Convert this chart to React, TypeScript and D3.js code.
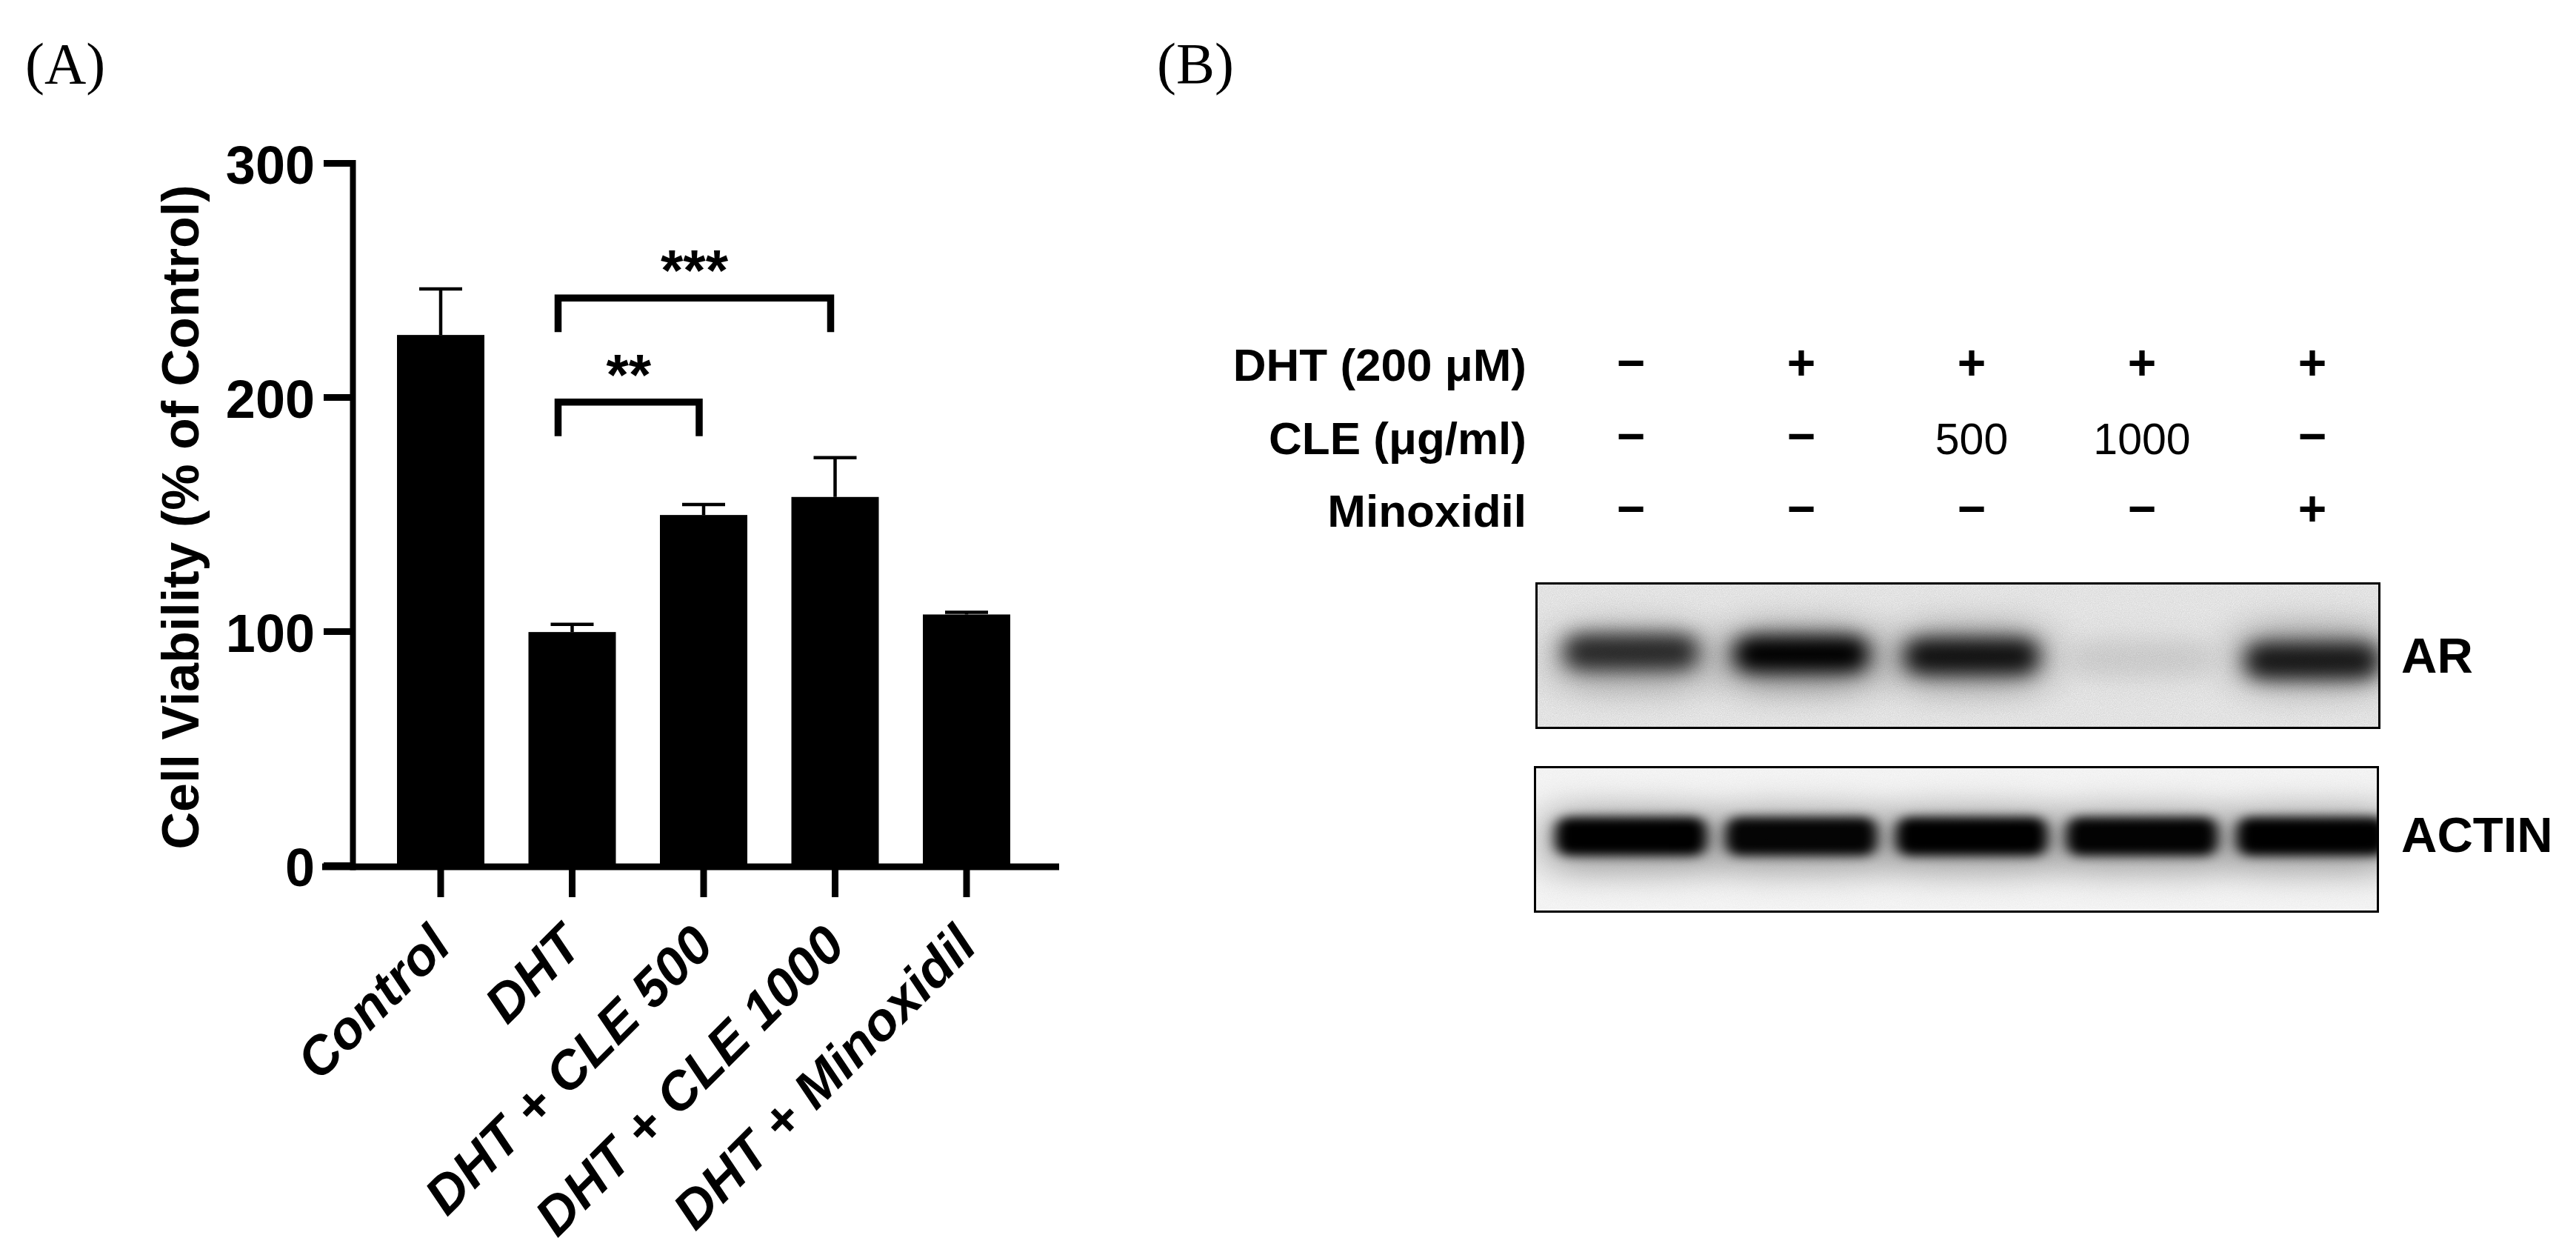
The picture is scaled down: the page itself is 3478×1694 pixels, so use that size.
import React from 'react';
import * as d3 from 'd3';

// ---------- Data ----------
const categories = ['Control', 'DHT', 'DHT + CLE 500', 'DHT + CLE 1000', 'DHT + Minoxidil'];
const means = [226.7, 99.8, 149.8, 157.5, 107.3];
const sds = [19.7, 3.3, 4.5, 16.8, 0.9];
const yTicks = [0, 100, 200, 300];
const comparisons = [
  { from: 1, to: 2, level: 198, label: '**' },
  { from: 1, to: 3, level: 242.5, label: '***' },
];

const rowLabels = ['DHT (200 μM)', 'CLE (μg/ml)', 'Minoxidil'];
const dhtRow = ['−', '+', '+', '+', '+'];
const cleRow = ['−', '−', '500', '1000', '−'];
const minoxRow = ['−', '−', '−', '−', '+'];
const lanes = ['1', '2', '3', '4', '5'];
const arIntensity = [0.74, 1.0, 0.88, 0.07, 0.84];
const actinIntensity = [1, 0.97, 1, 0.98, 1];

const W = 3478;
const H = 1694;
const SANS = "'Liberation Sans', Arial, Helvetica, sans-serif";
const SERIF = "'Liberation Serif', 'Times New Roman', serif";

export default function App() {
  // ----- Panel A scales -----
  const y = d3.scaleLinear().domain([0, 300]).range([1168.5, 220.5]);
  const x = d3.scalePoint<string>().domain(categories).range([595, 1305]);
  const barW = 118;
  const axisX = 476.5;
  const axisY = 1170;

  // ----- Panel B scales -----
  const lane = d3.scalePoint<string>().domain(lanes).range([2202, 3122]);
  const rowY = d3.scalePoint<string>().domain(rowLabels).range([514, 711]);
  const rows = [dhtRow, cleRow, minoxRow];

  const arBox = { x: 2074.5, y: 787.5, w: 1138, h: 195 };
  const acBox = { x: 2072.5, y: 1035.5, w: 1138, h: 195 };

  return (
    <div style={{ position: 'absolute', left: 0, top: 0 }}>
      <svg width={W} height={H} viewBox={`0 0 ${W} ${H}`} style={{ display: 'block', background: '#fff' }}>
        <defs>
          <filter id="blurAR" x="-50%" y="-100%" width="200%" height="300%">
            <feGaussianBlur stdDeviation="14 12" />
          </filter>
          <filter id="blurAC" x="-50%" y="-100%" width="200%" height="300%">
            <feGaussianBlur stdDeviation="9 7" />
          </filter>
          <filter id="halo" x="-50%" y="-200%" width="200%" height="500%">
            <feGaussianBlur stdDeviation="30 22" />
          </filter>
          <filter id="noise" x="0" y="0" width="100%" height="100%">
            <feTurbulence type="fractalNoise" baseFrequency="0.9" numOctaves="2" seed="3" result="t" />
            <feColorMatrix type="matrix" values="0 0 0 0 0  0 0 0 0 0  0 0 0 0 0  0 0 0 -1.2 1.05" />
          </filter>
          <clipPath id="clipAR">
            <rect x={arBox.x} y={arBox.y} width={arBox.w} height={arBox.h} />
          </clipPath>
          <clipPath id="clipAC">
            <rect x={acBox.x} y={acBox.y} width={acBox.w} height={acBox.h} />
          </clipPath>
        </defs>

        {/* Panel letters */}
        <text x={34} y={112} fontFamily={SERIF} fontSize={78}>(A)</text>
        <text x={1562} y={112} fontFamily={SERIF} fontSize={78}>(B)</text>

        {/* ===== Panel A: bar chart ===== */}
        {categories.map((c, i) => (
          <rect key={c} x={(x(c) as number) - barW / 2} y={y(means[i])} width={barW}
            height={axisY - y(means[i])} fill="#000" />
        ))}
        {categories.map((c, i) => {
          const cx = x(c) as number;
          return (
            <g key={'e' + c} stroke="#000" strokeWidth={4.5}>
              <line x1={cx} x2={cx} y1={y(means[i])} y2={y(means[i] + sds[i])} />
              <line x1={cx - 29} x2={cx + 29} y1={y(means[i] + sds[i])} y2={y(means[i] + sds[i])} />
            </g>
          );
        })}

        {/* axes */}
        <line x1={axisX} x2={axisX} y1={216} y2={axisY + 4.5} stroke="#000" strokeWidth={8} />
        <line x1={435} x2={1430} y1={axisY} y2={axisY} stroke="#000" strokeWidth={9} />
        {yTicks.map((t) => (
          <g key={t}>
            <line x1={437} x2={axisX} y1={y(t)} y2={y(t)} stroke="#000" strokeWidth={9} />
            <text x={425} y={y(t) + 27} textAnchor="end" fontFamily={SANS} fontWeight="bold" fontSize={72}>{t}</text>
          </g>
        ))}
        {categories.map((c) => {
          const cx = x(c) as number;
          return (
            <g key={'t' + c}>
              <line x1={cx} x2={cx} y1={axisY} y2={axisY + 41} stroke="#000" strokeWidth={9} />
              <text transform={`translate(${cx + 17},${1280}) rotate(-45)`} textAnchor="end"
                fontFamily={SANS} fontWeight="bold" fontStyle="italic" fontSize={72}>{c}</text>
            </g>
          );
        })}
        <text transform={`translate(${268},${698}) rotate(-90)`} textAnchor="middle"
          fontFamily={SANS} fontWeight="bold" fontSize={70}>Cell Viability (% of Control)</text>

        {/* significance brackets */}
        {comparisons.map((cmp) => {
          const x1 = (x(categories[cmp.from]) as number) - 19;
          const x2 = (x(categories[cmp.to]) as number) - 6;
          const yt = y(cmp.level);
          const yb = yt + 46;
          return (
            <g key={cmp.label}>
              <path d={`M${x1},${yb} V${yt} H${x2} V${yb}`} fill="none" stroke="#000" strokeWidth={9.5}
                strokeLinejoin="miter" />
              <text x={(x1 + x2) / 2} y={yt - 10} textAnchor="middle" fontFamily={SANS} fontWeight="bold"
                fontSize={78}>{cmp.label}</text>
            </g>
          );
        })}

        {/* ===== Panel B: treatment table ===== */}
        {rowLabels.map((r, ri) => (
          <g key={r}>
            <text x={2061} y={rowY(r)} textAnchor="end" fontFamily={SANS} fontWeight="bold" fontSize={62}>{r}</text>
            {lanes.map((l, li) => {
              const v = rows[ri][li];
              const isNum = /\d/.test(v);
              return (
                <text key={l} x={lane(l)} y={(rowY(r) as number) - (isNum ? 0 : 2)} textAnchor="middle"
                  fontFamily={SANS} fontWeight={isNum ? 'normal' : 'bold'} fontSize={isNum ? 59 : 66}>{v}</text>
              );
            })}
          </g>
        ))}

        {/* AR blot */}
        <g clipPath="url(#clipAR)">
          <rect x={arBox.x} y={arBox.y} width={arBox.w} height={arBox.h} fill="#f0f0f0" />
          <rect x={arBox.x} y={arBox.y} width={arBox.w} height={arBox.h} fill="#000" filter="url(#noise)" opacity={0.12} />
          {lanes.map((l, i) => (
            <g key={l}>
              <rect x={(lane(l) as number) - 105} y={846} width={210} height={84} rx={40}
                fill="#000" opacity={arIntensity[i] * 0.4} filter="url(#halo)" />
              <rect x={(lane(l) as number) - 90} y={856 + i * 3} width={180} height={48} rx={20}
                fill="#000" opacity={arIntensity[i]} filter="url(#blurAR)" />
            </g>
          ))}
        </g>
        <rect x={arBox.x} y={arBox.y} width={arBox.w} height={arBox.h} fill="none" stroke="#000" strokeWidth={3} />
        <text x={3242} y={908} fontFamily={SANS} fontWeight="bold" fontSize={67}>AR</text>

        {/* ACTIN blot */}
        <g clipPath="url(#clipAC)">
          <rect x={acBox.x} y={acBox.y} width={acBox.w} height={acBox.h} fill="#f7f7f7" />
          <rect x={acBox.x} y={acBox.y} width={acBox.w} height={acBox.h} fill="#000" filter="url(#noise)" opacity={0.04} />
          {lanes.map((l, i) => (
            <g key={l}>
              <rect x={(lane(l) as number) - 118} y={1092} width={236} height={85} rx={30}
                fill="#000" opacity={actinIntensity[i] * 0.35} filter="url(#halo)" />
              <rect x={(lane(l) as number) - 102} y={1103} width={204} height={52} rx={18}
                fill="#000" opacity={actinIntensity[i]} filter="url(#blurAC)" />
            </g>
          ))}
        </g>
        <rect x={acBox.x} y={acBox.y} width={acBox.w} height={acBox.h} fill="none" stroke="#000" strokeWidth={3} />
        <text x={3242} y={1150} fontFamily={SANS} fontWeight="bold" fontSize={67}>ACTIN</text>
      </svg>
    </div>
  );
}
